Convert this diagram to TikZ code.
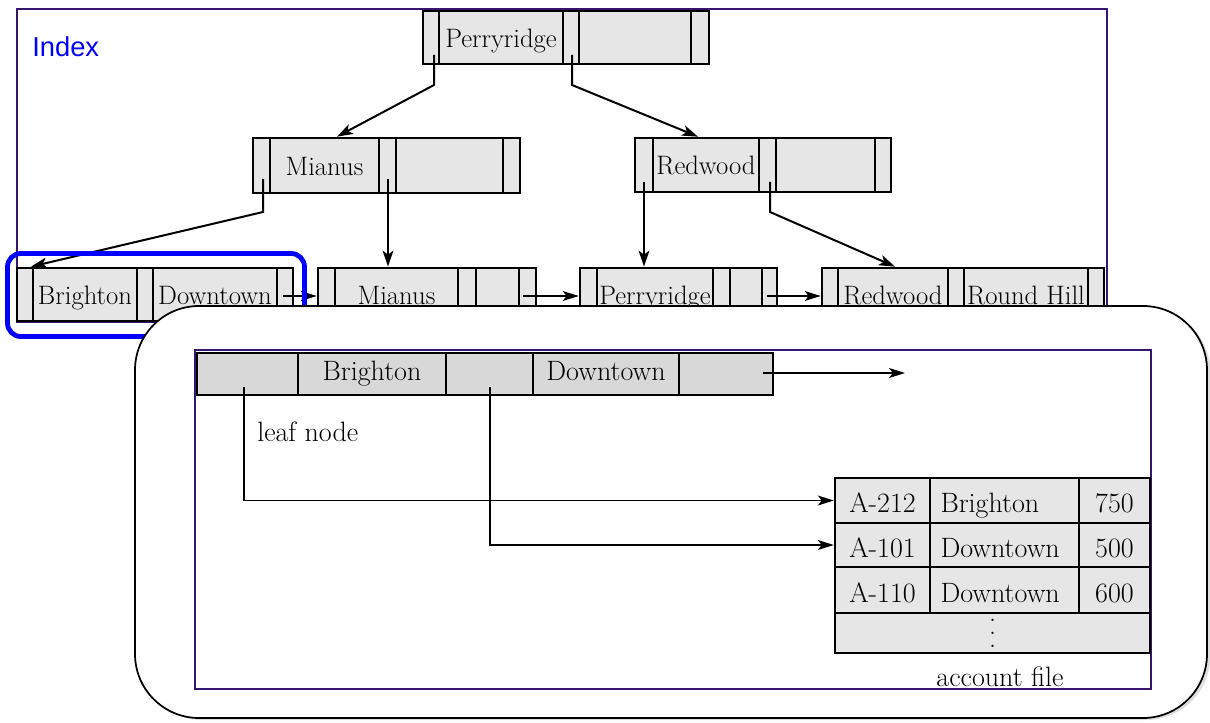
\documentclass[tikz,border=0pt]{standalone}
\usepackage{fontspec}
\newfontfamily\labelsans{Liberation Sans}
\usetikzlibrary{arrows.meta,shadows}

\definecolor{frameviolet}{RGB}{55,20,110}
\definecolor{cellgray}{RGB}{230,230,230}
\definecolor{leafgray}{RGB}{216,216,216}

% \mkcell{name}{style}{x1}{x2}{y1}{y2}{text}: one box of a record, given by its edges
\newcommand\mkcell[7]{\node[#2,minimum width={(#4-#3)*0.75pt},minimum height={(#6-#5)*0.75pt}] (#1) at ({(#3+#4)/2},{(#5+#6)/2}) {#7};}
% widely spaced vertical dots for the open end of the file
\newcommand\morerows{\vbox{\baselineskip=9.8pt\lineskiplimit=0pt\hbox{.}\hbox{.}\hbox{.}}}

\tikzset{
  tcell/.style={draw, fill=cellgray, line width=2pt, inner sep=0pt,
    font=\fontsize{20}{22}\selectfont, text height=14.3pt, text depth=0pt},
  icell/.style={draw, fill=leafgray, line width=1.5pt, inner sep=0pt,
    font=\fontsize{21}{23}\selectfont, text height=10pt, text depth=0pt},
  fcell/.style={draw, fill=cellgray, line width=1.8pt, inner sep=0pt,
    font=\fontsize{21}{23}\selectfont, text height=18pt, text depth=0pt},
  fname/.style={fcell, text width=96pt, align=left},
  fdots/.style={draw, fill=cellgray, line width=1.8pt, inner sep=0pt, font=\fontsize{21}{23}\selectfont},
  stub/.style={line width=1.5pt},
  tarrow/.style={line width=1.5pt, -{Stealth[length=12pt,width=8pt,inset=3pt]}},
  sarrow/.style={line width=1.2pt, -{Stealth[length=12pt,width=7.5pt,inset=3pt]}},
  iarrow/.style={line width=1.1pt, -{Stealth[length=12pt,width=7.5pt,inset=3pt]}},
  frame/.style={draw=frameviolet, line width=1.1pt},
}

\begin{document}
\begin{tikzpicture}[x=0.75pt,y=-0.75pt]
\useasboundingbox (0,0) rectangle (1210,723);

% index frame
\draw[frame] (17,9) rectangle (1107,322);
\node[font=\labelsans\fontsize{20.5}{23}\selectfont, text=blue, anchor=west, inner sep=0pt] (idx) at (32,47) {Index};

% root
\mkcell{rA}{tcell}{423}{439}{11}{64}{}
\mkcell{rK1}{tcell}{439}{563}{11}{64}{Perryridge}
\mkcell{rB}{tcell}{563}{579}{11}{64}{}
\mkcell{rK2}{tcell}{579}{691}{11}{64}{}
\mkcell{rC}{tcell}{691}{709}{11}{64}{}

% internal level
\mkcell{mA}{tcell}{253}{270}{138}{193}{}
\mkcell{mK1}{tcell}{270}{379}{138}{193}{Mianus}
\mkcell{mB}{tcell}{379}{396}{138}{193}{}
\mkcell{mK2}{tcell}{396}{503}{138}{193}{}
\mkcell{mC}{tcell}{503}{520}{138}{193}{}

\mkcell{wA}{tcell}{635}{653}{138}{192}{}
\mkcell{wK1}{tcell}{653}{759}{138}{192}{Redwood}
\mkcell{wB}{tcell}{759}{776}{138}{192}{}
\mkcell{wK2}{tcell}{776}{875}{138}{192}{}
\mkcell{wC}{tcell}{875}{891}{138}{192}{}

% leaf level
\mkcell{aA}{tcell}{17}{33}{268}{321}{}
\mkcell{aK1}{tcell}{33}{137}{268}{321}{Brighton}
\mkcell{aB}{tcell}{137}{153}{268}{321}{}
\mkcell{aK2}{tcell}{153}{277}{268}{321}{Downtown}
\mkcell{aC}{tcell}{277}{293}{268}{321}{}

\mkcell{bA}{tcell}{318}{335}{268}{321}{}
\mkcell{bK1}{tcell}{335}{458}{268}{321}{Mianus}
\mkcell{bB}{tcell}{458}{476}{268}{321}{}
\mkcell{bK2}{tcell}{476}{519}{268}{321}{}
\mkcell{bC}{tcell}{519}{536}{268}{321}{}

\mkcell{cA}{tcell}{580}{597}{268}{321}{}
\mkcell{cK1}{tcell}{597}{713}{268}{321}{Perryridge}
\mkcell{cB}{tcell}{713}{730}{268}{321}{}
\mkcell{cK2}{tcell}{730}{762}{268}{321}{}
\mkcell{cC}{tcell}{762}{777}{268}{321}{}

\mkcell{dA}{tcell}{822}{838}{268}{321}{}
\mkcell{dK1}{tcell}{838}{948}{268}{321}{Redwood}
\mkcell{dB}{tcell}{948}{964}{268}{321}{}
\mkcell{dK2}{tcell}{964}{1088}{268}{321}{Round Hill}
\mkcell{dC}{tcell}{1088}{1104}{268}{321}{}

% tree pointers
\coordinate (rAs) at (434,55);  \coordinate (rAb) at (434,85);
\coordinate (rBs) at (572,55);  \coordinate (rBb) at (572,85);
\coordinate (mAs) at (263,179); \coordinate (mAb) at (263,212);
\coordinate (mBs) at (388,179);
\coordinate (wAs) at (644,182);
\coordinate (wBs) at (770,182); \coordinate (wBb) at (770,212);
\draw[tarrow] (rAs) -- (rAb) -- (337,0 |- mK1.north);
\draw[tarrow] (rBs) -- (rBb) -- (698,0 |- wK1.north);
\draw[tarrow] (mAs) -- (mAb) -- (31,0 |- aA.north);
\draw[tarrow] (mBs) -- (388,0 |- bK1.north);
\draw[tarrow] (wAs) -- (644,0 |- cK1.north);
\draw[tarrow] (wBs) -- (wBb) -- (895,0 |- dK1.north);

% sibling pointers between leaves
\coordinate (aCs) at (283,296);
\coordinate (bCs) at (523,296);
\coordinate (cCs) at (767,296);
\draw[sarrow] (aCs) -- (bA.west |- aCs);
\draw[sarrow] (bCs) -- (cA.west |- bCs);
\draw[sarrow] (cCs) -- (dA.west |- cCs);

% highlight of the first leaf
\draw[blue, line width=3.6pt, rounded corners=10pt] (7.5,253.5) rectangle (304.5,336.5);

% detail panel
\path[draw=black, fill=white, line width=1.3pt, rounded corners=48pt,
      drop shadow={opacity=0.25, shadow xshift=2.5pt, shadow yshift=-1.5pt}]
  (135,306) rectangle (1207,718);
\draw[frame] (195,350) rectangle (1151,689);

% enlarged leaf node
\mkcell{iA}{icell}{197}{298}{353}{395}{}
\mkcell{iK1}{icell}{298}{446}{353}{395}{Brighton}
\mkcell{iB}{icell}{446}{533}{353}{395}{}
\mkcell{iK2}{icell}{533}{679}{353}{395}{Downtown}
\mkcell{iC}{icell}{679}{773}{353}{395}{}
\node[font=\fontsize{21}{23}\selectfont, anchor=west, inner sep=0pt] (leafcap) at (257,432) {leaf node};

% account file
\mkcell{f11}{fcell}{835}{930}{478}{523}{A-212}
\mkcell{f12}{fname}{930}{1079}{478}{523}{Brighton}
\mkcell{f13}{fcell}{1079}{1150}{478}{523}{750}
\mkcell{f21}{fcell}{835}{930}{523}{567}{A-101}
\mkcell{f22}{fname}{930}{1079}{523}{567}{Downtown}
\mkcell{f23}{fcell}{1079}{1150}{523}{567}{500}
\mkcell{f31}{fcell}{835}{930}{567}{613}{A-110}
\mkcell{f32}{fname}{930}{1079}{567}{613}{Downtown}
\mkcell{f33}{fcell}{1079}{1150}{567}{613}{600}
\mkcell{f41}{fdots}{835}{1150}{613}{653}{\morerows}
\node[font=\fontsize{21}{23}\selectfont, inner sep=0pt] (filecap) at (1000,677) {account file};

% record pointers
\coordinate (iAs) at (244,387);
\coordinate (iBs) at (490,387);
\coordinate (iCs) at (763,373);
\coordinate (iCe) at (905,373);
\draw[iarrow] (iAs) |- (f11.west);
\draw[iarrow] (iBs) |- (f21.west);
\draw[iarrow] (iCs) -- (iCe);
\end{tikzpicture}
\end{document}
